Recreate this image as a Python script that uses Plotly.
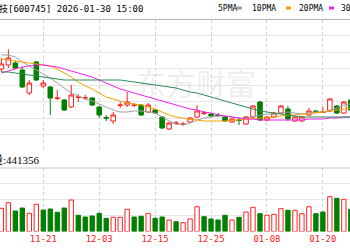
import plotly.graph_objects as go

dates = ["11-13","11-14","11-17","11-18","11-19","11-20","11-21","11-24","11-25","11-26",
         "11-27","11-28","12-01","12-02","12-03","12-04","12-05","12-08","12-09","12-10",
         "12-11","12-12","12-15","12-16","12-17","12-18","12-19","12-22","12-23","12-24",
         "12-25","12-26","12-29","12-30","12-31","01-05","01-06","01-07","01-08","01-09",
         "01-12","01-13","01-14","01-15","01-16","01-19","01-20","01-21","01-22","01-23",
         "01-26"]

opens  = [43.1,43.5,43.7,43.0,40.7,43.8,41.4,41.3,40.15,40.0,39.3,40.25,40.2,40.2,39.3,38.25,37.9,39.45,39.5,39.45,
          39.5,38.8,39.0,38.3,37.1,37.65,37.55,37.8,38.3,38.65,38.6,38.5,38.3,37.8,38.0,37.6,38.3,39.8,38.0,38.3,
          38.7,39.1,37.9,37.9,38.5,38.9,38.75,38.9,39.4,38.7,40.0]
closes = [43.6,44.2,43.2,41.3,41.7,42.0,41.7,40.2,40.2,39.0,40.5,40.3,40.25,39.5,38.5,38.2,38.5,39.5,39.8,39.5,
          38.5,39.5,38.7,37.2,37.7,37.7,37.6,38.2,38.9,38.7,38.4,38.45,37.9,38.1,37.95,38.3,39.4,38.0,38.3,38.7,
          39.4,38.1,38.3,38.3,38.9,38.85,38.8,40.1,38.7,39.8,39.0]
highs  = [44.2,45.07,43.9,43.3,42.0,43.9,42.0,41.4,41.0,40.1,41.5,40.6,40.5,40.3,39.4,38.5,38.8,39.8,40.8,39.7,
          39.6,39.7,39.1,38.4,37.8,37.9,37.8,38.3,39.5,38.9,38.7,38.7,38.4,38.2,38.2,38.4,39.5,39.9,38.4,38.8,
          39.5,39.4,38.4,38.4,39.2,39.0,39.3,40.2,39.5,39.9,40.1]
lows   = [42.8,43.2,43.1,41.2,40.5,41.9,41.2,38.5,40.0,38.9,39.2,39.8,40.0,39.4,38.2,37.9,37.6,39.2,39.3,39.3,
          38.4,38.7,38.6,37.1,37.0,37.5,37.45,37.7,38.2,38.5,38.3,38.3,37.8,37.7,37.5,37.5,38.2,37.9,37.9,38.2,
          38.6,37.9,37.8,37.8,38.4,38.7,38.7,38.8,38.6,38.6,38.9]

ma5  = [44.5,44.5,44.3,43.8,43.4,43.0,42.6,42.2,41.7,41.2,40.7,40.4,40.1,39.9,39.6,39.3,39.0,38.8,38.8,38.9,
        38.9,38.8,38.7,38.3,37.9,37.6,37.5,37.7,38.0,38.2,38.3,38.4,38.4,38.3,38.2,38.1,38.3,38.5,38.6,38.6,
        38.7,38.8,38.7,38.6,38.7,38.8,38.8,39.0,39.2,39.5,39.6]
ma10 = [44.1,44.0,43.9,43.8,43.7,43.6,43.5,43.4,43.1,42.7,42.3,41.8,41.4,41.1,40.7,40.3,40.1,39.9,39.7,39.6,
        39.5,39.3,39.1,38.8,38.5,38.3,38.2,38.1,38.0,37.9,37.9,37.9,37.9,38.0,38.0,38.1,38.1,38.2,38.2,38.3,
        38.4,38.5,38.5,38.6,38.6,38.7,38.8,38.9,39.0,39.1,39.2]
ma20 = [42.7,42.9,43.1,43.3,43.4,43.5,43.5,43.4,43.3,43.1,42.9,42.7,42.5,42.3,42.0,41.7,41.4,41.1,40.9,40.7,
        40.5,40.3,40.1,39.9,39.7,39.5,39.3,39.1,39.0,38.8,38.7,38.5,38.4,38.3,38.2,38.1,38.1,38.0,38.0,38.0,
        38.0,38.0,38.0,38.0,38.1,38.1,38.1,38.2,38.2,38.3,38.3]
ma30 = [42.8,42.8,42.7,42.6,42.5,42.4,42.3,42.2,42.1,42.0,42.0,42.0,42.0,42.0,42.0,42.0,42.0,42.0,41.9,41.8,
        41.7,41.6,41.5,41.4,41.3,41.2,41.0,40.8,40.7,40.5,40.3,40.1,39.9,39.7,39.5,39.3,39.1,38.9,38.8,38.7,
        38.6,38.5,38.4,38.3,38.3,38.3,38.3,38.3,38.3,38.3,38.3]

volumes = [371200,460800,328000,376000,291200,435200,344000,360000,307200,376000,
           504000,259200,232000,248000,291200,211200,227200,227200,355200,232000,
           243200,291200,211200,232000,184000,156800,140800,200000,396800,236800,
           200000,184000,259200,184000,227200,312000,387200,284800,259200,275200,
           364800,339200,339200,284800,396800,284800,312000,556800,531200,515200,
           355200]
vol_up = [1,1,0,0,1,1,0,0,0,0, 1,0,0,0,0,0,1,1,1,0, 0,1,0,0,1,0,1,1,1,0,
          0,0,0,1,0,1,1,0,1,1, 1,0,1,1,1,0,0,1,0,1, 0]

tick_idx = [6, 14, 22, 30, 38, 46]
tick_labels = [dates[i] for i in tick_idx]
ma_names = ["5PMA", "10PMA", "20PMA", "30PMA"]

RED = "#ff2020"
GREEN = "#008000"
MA_COLORS = ["#a0a0a0", "#f5a000", "#f020f0", "#2e8b57"]

x = list(range(len(dates)))

fig = go.Figure()
fig.add_trace(go.Candlestick(
    x=x, open=opens, high=highs, low=lows, close=closes,
    increasing=dict(line=dict(color=RED, width=1), fillcolor="white"),
    decreasing=dict(line=dict(color=GREEN, width=1), fillcolor=GREEN),
    whiskerwidth=0, showlegend=False, hoverinfo="skip",
    xaxis="x", yaxis="y"))
for vals, col in zip([ma5, ma10, ma20, ma30], MA_COLORS):
    fig.add_trace(go.Scatter(x=x, y=vals, mode="lines",
                             line=dict(color=col, width=1),
                             showlegend=False, hoverinfo="skip",
                             xaxis="x", yaxis="y"))

fig.add_trace(go.Bar(
    x=x, y=volumes, width=0.62,
    marker=dict(color=["white" if u else GREEN for u in vol_up],
                line=dict(color=[RED if u else GREEN for u in vol_up], width=1)),
    showlegend=False, hoverinfo="skip", xaxis="x2", yaxis="y2"))

xr = [-0.195, 49.88]
common_x = dict(range=xr, tickvals=tick_idx, ticktext=tick_labels,
                showgrid=True, gridcolor="#d0d0d0", griddash="3px,3px", gridwidth=1,
                zeroline=False, showline=False, ticks="", fixedrange=True)

fig.update_layout(
    width=350, height=250,
    margin=dict(l=0, r=0, t=0, b=0),
    paper_bgcolor="white", plot_bgcolor="white",
    showlegend=False,
    boxgap=0.35, boxgroupgap=0,
    barmode="overlay",
    xaxis=dict(domain=[0, 1], anchor="y", showticklabels=False,
               rangeslider=dict(visible=False), **common_x),
    xaxis2=dict(domain=[0, 1], anchor="y2", matches="x", showticklabels=True,
                tickfont=dict(family="DejaVu Sans Mono", size=9, color=RED), **common_x),
    yaxis=dict(domain=[0.396, 0.922], range=[34.9, 48.05], tick0=34.9, dtick=1.64375,
               showticklabels=False, showgrid=True, gridcolor="#e6e6e6",
               zeroline=False, ticks="", fixedrange=True),
    yaxis2=dict(domain=[0.074, 0.328], range=[0, 1016000], tick0=0, dtick=254000,
                showticklabels=False, showgrid=True, gridcolor="#e6e6e6",
                zeroline=False, ticks="", fixedrange=True),
)

# border lines
fig.add_shape(type="line", xref="paper", yref="paper", x0=0, x1=1, y0=0.922, y1=0.922,
              line=dict(color="#b4b4b4", width=1))
fig.add_shape(type="line", xref="paper", yref="paper", x0=0, x1=1, y0=0.328, y1=0.328,
              line=dict(color="#c8c8c8", width=1))

# header
fig.add_annotation(xref="paper", yref="paper", x=-0.085, y=0.968, xanchor="left", yanchor="middle",
                   text="闻泰科技[600745] 2026-01-30 15:00", showarrow=False,
                   font=dict(family="DejaVu Sans Mono, Noto Sans CJK SC", size=9, color="black"))
# legend
leg_x = [216, 250, 297, 339]
for name, col, lx in zip(ma_names, MA_COLORS, leg_x):
    fig.add_annotation(xref="paper", yref="paper", x=lx / 350, y=0.968, xanchor="left", yanchor="middle",
                       text=name, showarrow=False,
                       font=dict(family="DejaVu Sans Mono", size=8, color="black"))
mk_x = [237, 286, 329]
for col, mx in zip(MA_COLORS[:3], mk_x):
    fig.add_shape(type="rect", xref="paper", yref="paper", x0=mx / 350, x1=(mx + 5) / 350,
                  y0=1 - 9.5 / 250, y1=1 - 6.5 / 250, line=dict(width=0), fillcolor=col)

# volume header
fig.add_annotation(xref="paper", yref="paper", x=-0.03, y=1 - 160 / 250, xanchor="left", yanchor="middle",
                   text="量:441356", showarrow=False,
                   font=dict(family="Liberation Serif, Noto Sans CJK SC", size=11, color="black"))

# watermark
fig.add_annotation(xref="paper", yref="paper", x=196 / 350, y=1 - 82 / 250, xanchor="center", yanchor="middle",
                   text="东方财富", showarrow=False,
                   font=dict(family="Noto Sans CJK SC", size=30, color="rgba(120,120,120,0.15)"))

fig.write_html("out.html")
